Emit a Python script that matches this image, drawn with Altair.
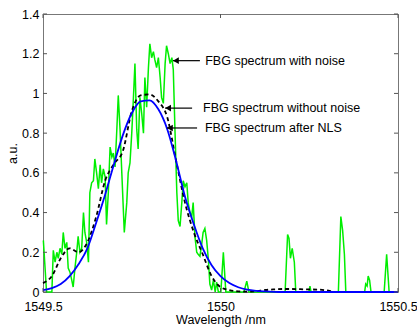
import altair as alt
import pandas as pd

# ---- data ----
green_x = [1549.501, 1549.510, 1549.525, 1549.529, 1549.534, 1549.539, 1549.543, 1549.548,
           1549.553, 1549.557, 1549.562, 1549.567, 1549.571, 1549.576, 1549.581, 1549.585,
           1549.590, 1549.595, 1549.599, 1549.604, 1549.609, 1549.614, 1549.618, 1549.623,
           1549.628, 1549.632, 1549.637, 1549.642, 1549.646, 1549.651, 1549.656, 1549.661,
           1549.665, 1549.670, 1549.675, 1549.679, 1549.684, 1549.689, 1549.694, 1549.698,
           1549.703, 1549.708, 1549.712, 1549.717, 1549.722, 1549.729, 1549.736, 1549.740,
           1549.745, 1549.750, 1549.754, 1549.759, 1549.764, 1549.768, 1549.773, 1549.778,
           1549.783, 1549.787, 1549.792, 1549.797, 1549.801, 1549.806, 1549.811, 1549.815,
           1549.820, 1549.825, 1549.830, 1549.834, 1549.839, 1549.844, 1549.848, 1549.853,
           1549.858, 1549.863, 1549.867, 1549.872, 1549.877, 1549.881, 1549.886, 1549.891,
           1549.895, 1549.900, 1549.905, 1549.909, 1549.914, 1549.919, 1549.923, 1549.928,
           1549.933, 1549.937, 1549.942, 1549.947, 1549.951, 1549.956, 1549.961, 1549.966,
           1549.970, 1549.975, 1549.980, 1549.985, 1549.989, 1549.994, 1550.001, 1550.008,
           1550.015, 1550.066, 1550.074, 1550.080, 1550.182, 1550.189, 1550.193, 1550.197,
           1550.202, 1550.208, 1550.212, 1550.249, 1550.252, 1550.255, 1550.332, 1550.339,
           1550.344, 1550.349, 1550.353, 1550.406, 1550.409, 1550.413, 1550.416, 1550.420,
           1550.424, 1550.461, 1550.468, 1550.475, 1550.500]
green_y = [0.26, 0.00, 0.00, 0.21, 0.15, 0.20, 0.17, 0.22,
           0.19, 0.30, 0.22, 0.25, 0.12, 0.10, 0.06, 0.025,
           0.12, 0.20, 0.28, 0.20, 0.22, 0.40, 0.30, 0.25,
           0.15, 0.50, 0.55, 0.56, 0.67, 0.60, 0.52, 0.64,
           0.55, 0.62, 0.58, 0.34, 0.50, 0.73, 0.68, 0.70,
           0.63, 0.82, 0.99, 0.82, 0.60, 0.30, 0.45, 0.60,
           0.65, 0.80, 0.95, 1.15, 0.82, 0.72, 0.98, 0.90,
           0.80, 1.08, 0.93, 1.13, 1.25, 1.18, 1.21, 1.17,
           1.13, 1.18, 1.08, 0.98, 0.95, 1.15, 1.24, 1.20,
           1.15, 1.18, 1.12, 0.80, 0.50, 0.36, 0.33, 0.45,
           0.56, 0.53, 0.55, 0.45, 0.40, 0.38, 0.45, 0.28,
           0.20, 0.19, 0.18, 0.24, 0.30, 0.32, 0.26, 0.16,
           0.04, 0.01, 0.06, 0.00, 0.05, 0.00, 0.00, 0.20,
           0.00, 0.00, 0.055, 0.00, 0.00, 0.29, 0.27, 0.17,
           0.22, 0.15, 0.00, 0.00, 0.03, 0.00, 0.00, 0.38,
           0.31, 0.19, 0.00, 0.00, 0.04, 0.03, 0.08, 0.06,
           0.00, 0.00, 0.19, 0.00, 0.00]

smooth_x = [1549.500, 1549.525, 1549.550, 1549.575, 1549.600, 1549.625, 1549.650, 1549.675,
            1549.700, 1549.725, 1549.750, 1549.775, 1549.800, 1549.825, 1549.850, 1549.875,
            1549.900, 1549.925, 1549.950, 1549.975, 1550.000, 1550.025, 1550.050, 1550.075,
            1550.100, 1550.125, 1550.150, 1550.175, 1550.200, 1550.225, 1550.250, 1550.275,
            1550.300, 1550.325, 1550.350, 1550.375, 1550.400, 1550.425, 1550.450, 1550.475,
            1550.500]
black_y = [0.045, 0.08, 0.17, 0.22, 0.20, 0.25, 0.38, 0.56,
           0.645, 0.71, 0.91, 0.99, 0.995, 0.96, 0.88, 0.66,
           0.45, 0.30, 0.19, 0.08, 0.025, 0.01, 0.003, 0.002,
           0.004, 0.01, 0.013, 0.015, 0.015, 0.014, 0.013, 0.012,
           0.008, 0.0, 0.0, 0.0, 0.0, 0.0, 0.0, 0.0,
           0.0]
blue_y = [0.01, 0.02, 0.04, 0.08, 0.14, 0.22, 0.35, 0.49,
          0.645, 0.79, 0.90, 0.96, 0.965, 0.92, 0.82, 0.66,
          0.48, 0.34, 0.22, 0.135, 0.08, 0.045, 0.024, 0.012,
          0.006, 0.003, 0.001, 0.0, 0.0, 0.0, 0.0, 0.0,
          0.0, 0.0, 0.0, 0.0, 0.0, 0.0, 0.0, 0.0,
          0.0]

ann_text = ["FBG spectrum with noise", "FBG spectrum without noise", "FBG spectrum after NLS"]
ann_tip_x = [1549.866, 1549.844, 1549.849]
ann_tail_x = [1549.942, 1549.920, 1549.934]
ann_text_x = [1549.957, 1549.951, 1549.956]
ann_y = [1.165, 0.926, 0.826]

x_ticks = [1549.5, 1550.0, 1550.5]
y_ticks = [0, 0.2, 0.4, 0.6, 0.8, 1.0, 1.2, 1.4]

W, H = 355, 278
FONT = "Liberation Sans"
FS = 12.5

green_df = pd.DataFrame({"x": green_x, "y": green_y})
smooth_df = pd.DataFrame({"x": smooth_x, "black": black_y, "blue": blue_y})
ann_df = pd.DataFrame({"text": ann_text, "tip": ann_tip_x, "tail": ann_tail_x,
                       "tx": ann_text_x, "y": ann_y})
xt_df = pd.DataFrame({"x": x_ticks})
yt_df = pd.DataFrame({"y": y_ticks})

xscale = alt.Scale(domain=[1549.5, 1550.5], nice=False, zero=False)
yscale = alt.Scale(domain=[0, 1.4], nice=False)

xaxis = alt.Axis(values=x_ticks, format="~g", title="Wavelength /nm", grid=False,
                 domain=False, ticks=False, labelPadding=8, titlePadding=1,
                 labelFlush=False)
yaxis = alt.Axis(values=y_ticks, format="~g", title="a.u.", grid=False,
                 domain=False, ticks=False, labelPadding=4, titlePadding=2)


def X(field):
    return alt.X(field, type="quantitative", scale=xscale, axis=xaxis)


def Y(field):
    return alt.Y(field, type="quantitative", scale=yscale, axis=yaxis)


green = alt.Chart(green_df).mark_line(color="#00ee00", strokeWidth=1.5).encode(
    x=X("x"), y=Y("y"))
black = alt.Chart(smooth_df).mark_line(color="#000000", strokeWidth=1.8,
                                       strokeDash=[4, 3], interpolate="monotone").encode(
    x=X("x"), y=Y("black"))
blue = alt.Chart(smooth_df).mark_line(color="#0000ff", strokeWidth=1.8,
                                      interpolate="monotone").encode(
    x=X("x"), y=Y("blue"))

arrow_lines = alt.Chart(ann_df).mark_rule(color="black", strokeWidth=1.2).encode(
    x=X("tip"), x2="tail:Q", y=Y("y"))
arrow_heads = alt.Chart(ann_df).mark_point(shape="triangle-left", filled=True,
                                           color="black", size=45, opacity=1,
                                           xOffset=3).encode(
    x=X("tip"), y=Y("y"))
labels = alt.Chart(ann_df).mark_text(align="left", baseline="middle", font=FONT,
                                     fontSize=FS, color="black").encode(
    x=X("tx"), y=Y("y"), text="text:N")

tick_col = "#555555"
yt_left = alt.Chart(yt_df).mark_rule(color=tick_col, strokeWidth=1).encode(
    y=Y("y"), x=alt.value(0), x2=alt.value(4))
yt_right = alt.Chart(yt_df).mark_rule(color=tick_col, strokeWidth=1).encode(
    y=Y("y"), x=alt.value(W - 4), x2=alt.value(W))
xt_bottom = alt.Chart(xt_df).mark_rule(color=tick_col, strokeWidth=1).encode(
    x=X("x"), y=alt.value(H - 4), y2=alt.value(H))
xt_top = alt.Chart(xt_df).mark_rule(color=tick_col, strokeWidth=1).encode(
    x=X("x"), y=alt.value(0), y2=alt.value(4))

chart = alt.layer(
    green, black, blue, arrow_lines, arrow_heads, labels,
    yt_left, yt_right, xt_bottom, xt_top,
).properties(
    width=W, height=H,
    autosize=alt.AutoSizeParams(type="none"),
    padding={"left": 43, "top": 14, "right": 19, "bottom": 35},
    background="white",
).configure_view(
    stroke="#777777", strokeWidth=1,
).configure_axis(
    labelFont=FONT, labelFontSize=FS, labelColor="#000000",
    titleFont=FONT, titleFontSize=FS, titleFontWeight="normal", titleColor="#000000",
)

chart.save("out.html", embed_options={"renderer": "svg", "actions": False})
